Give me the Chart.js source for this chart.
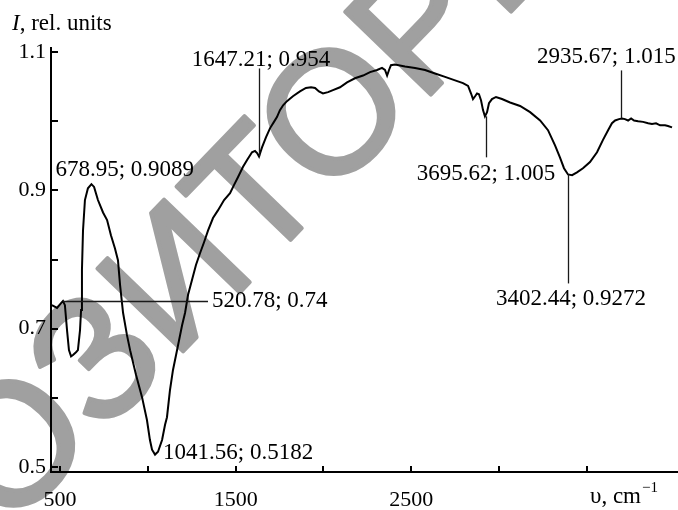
<!DOCTYPE html>
<html><head><meta charset="utf-8">
<script src="https://cdn.jsdelivr.net/npm/chart.js@4.4.1/dist/chart.umd.min.js"></script>
<style>html,body{margin:0;padding:0;background:#fff;}#wrap{width:678px;height:510px;position:relative;}</style>
</head><body><div id="wrap"><canvas id="c" width="678" height="510"></canvas></div>
<script>
// ---- data ----
const wavenumber = [454,483,506,517,528,540,551,563,574,591,602,614,620,625,631,642,659,679,694,716,745,768,790,813,830,842,859,881,899,933,967,995,1012,1024,1041,1058,1081,1098,1109,1126,1143,1172,1195,1212,1229,1251,1274,1297,1320,1343,1371,1399,1434,1468,1491,1513,1542,1565,1593,1610,1622,1633,1650,1673,1696,1718,1735,1752,1770,1792,1826,1866,1900,1929,1952,1974,1997,2026,2054,2094,2134,2179,2225,2265,2305,2333,2350,2362,2373,2384,2407,2464,2521,2578,2635,2692,2749,2794,2823,2840,2851,2863,2874,2885,2897,2908,2919,2931,2942,2959,2982,3016,3062,3119,3176,3233,3278,3318,3347,3369,3392,3415,3443,3477,3517,3557,3591,3620,3642,3660,3682,3699,3716,3734,3751,3768,3791,3819,3848,3870,3893,3916,3944,3961,3984];
const intensity = [0.734,0.730,0.737,0.740,0.734,0.698,0.669,0.660,0.662,0.666,0.669,0.698,0.727,0.785,0.842,0.886,0.903,0.909,0.905,0.886,0.868,0.857,0.835,0.816,0.799,0.763,0.723,0.691,0.669,0.633,0.601,0.568,0.539,0.525,0.518,0.522,0.539,0.561,0.572,0.611,0.640,0.676,0.705,0.723,0.749,0.770,0.792,0.809,0.825,0.842,0.860,0.871,0.886,0.896,0.908,0.919,0.934,0.944,0.955,0.957,0.954,0.949,0.962,0.977,0.990,0.999,1.006,1.016,1.023,1.029,1.036,1.043,1.048,1.049,1.048,1.043,1.040,1.042,1.045,1.049,1.056,1.062,1.066,1.071,1.074,1.077,1.074,1.066,1.074,1.081,1.082,1.079,1.077,1.074,1.069,1.064,1.059,1.055,1.051,1.040,1.032,1.036,1.040,1.039,1.030,1.016,1.007,1.013,1.026,1.032,1.035,1.032,1.027,1.022,1.013,1.001,0.987,0.965,0.947,0.932,0.923,0.922,0.926,0.932,0.941,0.955,0.973,0.987,0.997,1.001,1.003,1.004,1.003,1.001,1.004,1.001,1.000,0.999,0.997,0.996,0.997,0.994,0.994,0.993,0.991];

const xTickValues = [500,1000,1500,2000,2500,3000,3500];
const xTickLabels = ['500','','1500','','2500','',''];
const yTickValues = [0.5,0.6,0.7,0.8,0.9,1.0,1.1];
const yTickLabels = ['0.5','','0.7','','0.9','','1.1'];

const peakText = ['678.95; 0.9089','520.78; 0.74','1041.56; 0.5182','1647.21; 0.954','3695.62; 1.005','2935.67; 1.015','3402.44; 0.9272'];
const peakWavenumber = [679,517,1041,1633,2925,3696,3392];
const peakIntensity = [0.909,0.740,0.518,0.949,1.007,1.004,0.923];

const yTitleItalic = 'I';
const yTitleRest = ', rel. units';
const xTitleMain = 'υ, cm';
const xTitleSup = '−1';
const watermarkText = 'РЕПОЗИТОРИЙ';

// ---- layout / style (pixels) ----
const peakLayout = [
  {leader:null, len:0,   dx:-36, dy:-8,  align:'left',   base:'alphabetic'},
  {leader:'h',  len:145, dx:149, dy:0,   align:'left',   base:'middle'},
  {leader:null, len:0,   dx:8,   dy:4,   align:'left',   base:'alphabetic'},
  {leader:'v',  len:-88, dx:2,   dy:-90, align:'center', base:'alphabetic'},
  {leader:'v',  len:41,  dx:0,   dy:64,  align:'center', base:'alphabetic'},
  {leader:'v',  len:-48, dx:-15, dy:-55, align:'center', base:'alphabetic'},
  {leader:'v',  len:109, dx:3,   dy:131, align:'center', base:'alphabetic'}
];
const SERIF = '"Liberation Serif", "Times New Roman", serif';

const decor = {
  id:'decor',
  beforeDraw(chart){
    const ctx = chart.ctx;
    ctx.save();
    ctx.fillStyle = '#fff';
    ctx.fillRect(0,0,chart.width,chart.height);
    // watermark
    ctx.font = '173px "Liberation Sans", Arial, sans-serif';
    ctx.fillStyle = '#a0a0a0';
    ctx.strokeStyle = '#a0a0a0';
    ctx.lineWidth = 4;
    ctx.lineJoin = 'round';
    const ang = -46*Math.PI/180;
    const dir = [Math.cos(ang), Math.sin(ang)];
    const along = ctx.measureText('РЕПОЗИТО').width - ctx.measureText('О').width/2;
    const cx = 340, cy = 120;
    const ox = cx - along*dir[0], oy = cy - along*dir[1];
    ctx.translate(ox, oy);
    ctx.rotate(ang);
    ctx.textAlign = 'left';
    ctx.textBaseline = 'middle';
    ctx.fillText(watermarkText, 0, 0);
    ctx.strokeText(watermarkText, 0, 0);
    ctx.restore();
  },
  afterDraw(chart){
    const ctx = chart.ctx;
    const xs = chart.scales.x, ys = chart.scales.y;
    const area = chart.chartArea;
    ctx.save();
    // inward tick marks
    ctx.strokeStyle = '#000';
    ctx.lineWidth = 2;
    ctx.beginPath();
    yTickValues.forEach(v => { const p = Math.round(ys.getPixelForValue(v)); ctx.moveTo(area.left, p); ctx.lineTo(area.left+7, p); });
    xTickValues.forEach(v => { const p = Math.round(xs.getPixelForValue(v)); ctx.moveTo(p, area.bottom); ctx.lineTo(p, area.bottom-6); });
    ctx.stroke();
    // peak annotations
    ctx.fillStyle = '#000';
    ctx.font = '23px ' + SERIF;
    peakText.forEach((t,i) => {
      const L = peakLayout[i];
      const px = xs.getPixelForValue(peakWavenumber[i]);
      const py = ys.getPixelForValue(peakIntensity[i]);
      if (L.leader) {
        ctx.strokeStyle = '#1a1a1a';
        ctx.lineWidth = 1.3;
        ctx.beginPath();
        if (L.leader === 'h') { ctx.moveTo(px, Math.round(py)+0.5); ctx.lineTo(px+L.len, Math.round(py)+0.5); }
        else { ctx.moveTo(Math.round(px)+0.5, py); ctx.lineTo(Math.round(px)+0.5, py+L.len); }
        ctx.stroke();
      }
      ctx.textAlign = L.align;
      ctx.textBaseline = L.base;
      ctx.fillText(t, px+L.dx, py+L.dy);
    });
    // y title
    ctx.textAlign = 'left';
    ctx.textBaseline = 'alphabetic';
    ctx.font = 'italic 23px ' + SERIF;
    ctx.fillText(yTitleItalic, 12, 30);
    const w = ctx.measureText(yTitleItalic).width;
    ctx.font = '23px ' + SERIF;
    ctx.fillText(yTitleRest, 12 + w, 30);
    // x title
    ctx.font = '23px ' + SERIF;
    ctx.fillText(xTitleMain, 590, 503);
    const w2 = ctx.measureText(xTitleMain).width;
    ctx.font = '15px ' + SERIF;
    ctx.fillText(xTitleSup, 590 + w2 + 1, 492);
    ctx.restore();
  }
};

new Chart(document.getElementById('c'), {
  type:'line',
  data:{
    datasets:[{
      data: wavenumber.map((x,i) => ({x, y:intensity[i]})),
      borderColor:'#000',
      borderWidth:2,
      pointRadius:0,
      tension:0,
      fill:false
    }]
  },
  options:{
    responsive:false,
    animation:false,
    events:[],
    layout:{padding:{top:48,left:0,right:0,bottom:0}},
    plugins:{legend:{display:false}, tooltip:{enabled:false}, title:{display:false}},
    scales:{
      x:{
        type:'linear', min:448.8, max:4018,
        afterBuildTicks(s){ s.ticks = xTickValues.map(v => ({value:v})); },
        afterFit(s){ s.height = 38; },
        ticks:{ autoSkip:false, maxRotation:0, padding:15, color:'#000',
          font:{family:SERIF, size:22},
          callback:(v,i) => xTickLabels[i] },
        grid:{ display:true, drawOnChartArea:false, drawTicks:false },
        border:{ display:true, color:'#000', width:2 }
      },
      y:{
        type:'linear', min:0.4928, max:1.1058,
        afterBuildTicks(s){ s.ticks = yTickValues.map(v => ({value:v})); },
        afterFit(s){ s.width = 51; },
        ticks:{ autoSkip:false, padding:5, color:'#000',
          font:{family:SERIF, size:22},
          callback:(v,i) => yTickLabels[i] },
        grid:{ display:true, drawOnChartArea:false, drawTicks:false },
        border:{ display:true, color:'#000', width:2 }
      }
    }
  },
  plugins:[decor]
});
</script>
</body></html>
